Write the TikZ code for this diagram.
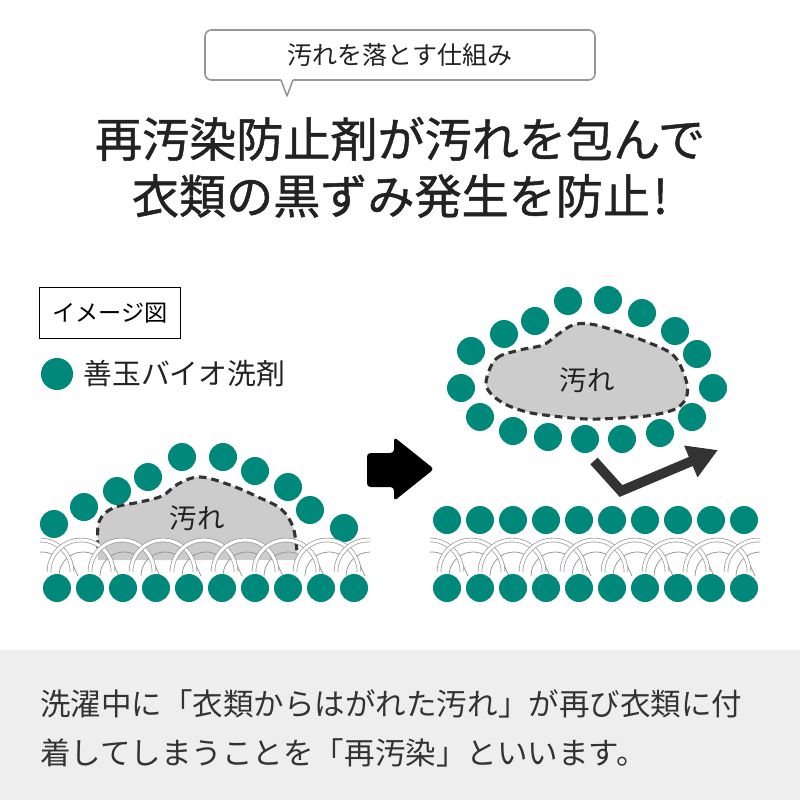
\documentclass[tikz,border=0pt]{standalone}
\usepackage{fontspec}
\setmainfont{Noto Sans CJK JP}
\newfontfamily\headfont{Noto Sans CJK JP}[FakeBold=1]
\usetikzlibrary{arrows.meta, positioning}

\definecolor{beadteal}{RGB}{0,137,123}
\definecolor{dirtgray}{RGB}{204,204,204}
\definecolor{edgegray}{RGB}{51,51,51}
\definecolor{fibergray}{RGB}{150,150,150}
\definecolor{bandgray}{RGB}{238,238,238}
\definecolor{bubblegray}{RGB}{150,150,150}
\definecolor{inkgray}{RGB}{34,34,34}

\begin{document}
\begin{tikzpicture}[x=0.025cm, y=-0.025cm,
    bead/.style={fill=beadteal},
    fiber/.style={draw=fibergray, line width=0.5pt, double=white, double distance=2.2pt},
    thread/.style={draw=fibergray, line width=0.55pt},
    dirt/.style={fill=dirtgray},
    dirtedge/.style={draw=edgegray, line width=2.2pt, dash pattern=on 5.5pt off 3.5pt},
    txt/.style={inner sep=0pt, text=inkgray}]
    \useasboundingbox (0,0) rectangle (800,800);

    \draw[bubblegray, line width=1.1pt, fill=white, rounded corners=4.5pt] (205,30) rectangle (595,80);
    \fill[white] (281,78) rectangle (293,82);
    \fill[white] (281,80) -- (287,96) -- (293,80) -- cycle;
    \draw[bubblegray, line width=1.1pt, line join=round] (281,80) -- (287,96) -- (293,80);
    \node[txt, font=\fontsize{17.8pt}{20pt}\selectfont] (bubble) at (400,55) {汚れを落とす仕組み};

    \node[txt, font=\headfont\fontsize{33.5pt}{38pt}\selectfont] (head1) at (400,139) {再汚染防止剤が汚れを包んで};
    \node[txt, font=\headfont\fontsize{33.5pt}{38pt}\selectfont] (head2) at (400,196) {衣類の黒ずみ発生を防止\kern2pt!};

    \node[draw, line width=0.7pt, minimum width=99.6pt, minimum height=35.6pt, inner sep=0pt,
          font=\fontsize{16.5pt}{18pt}\selectfont] (imgbox) at (110,313) {イメージ図};
    \node[circle, bead, minimum size=22.8pt, inner sep=0pt] (dot) at (57,374) {};
    \node[txt, right=7pt of dot, font=\fontsize{20.5pt}{22pt}\selectfont] (legend) {善玉バイオ洗剤};

    \fill[dirt] (98,560) -- plot[smooth, tension=0.6] coordinates {(98,548) (99,522) (113,508) (140,502) (162,496) (178,484) (200,477) (230,485) (258,497) (281,509) (293,527) (297,552)} -- (297,560) -- cycle;
    \draw[dirtedge] plot[smooth, tension=0.6] coordinates {(98,548) (99,522) (113,508) (140,502) (162,496) (178,484) (200,477) (230,485) (258,497) (281,509) (293,527) (297,552)};
    \node[txt, font=\fontsize{19.5pt}{22pt}\selectfont] (dirtL) at (197,518) {汚れ};
    \foreach \p in {(54,524),(84,507),(117,491),(148,477),(182,457),(223,457),(255,471),(288,487),(310,510),(344,528)}
        \fill[bead] \p circle[radius=14];

    \foreach \dx in {0,390} {
        \begin{scope}[shift={(\dx,0)}]
            \clip (40,533) rectangle (370,576);
            \foreach \x in {40,81,...,400} {
                \draw[thread] (\x-14,552) -- (\x-3,576);
                \draw[thread] (\x-22,576) arc[start angle=180, end angle=300, radius=24];
            }
            \foreach \x in {40,81,...,400}
                \draw[fiber] (\x+32,572) arc[start angle=0, end angle=-180, radius=32];
        \end{scope}
        \foreach \x in {57,90,...,360}
            \fill[bead] (\x+\dx,588) circle[radius=14];
    }

    \fill[black, rounded corners=2.5pt] (367,453) -- (394,453) -- (394,437) -- (434,469) -- (394,501) -- (394,487) -- (367,487) -- cycle;

    \draw[dirtedge, fill=dirtgray] plot[smooth cycle, tension=0.6] coordinates {(487,377) (497,358) (520,350) (543,345) (557,335) (573,325) (590,324) (613,330) (647,342) (673,355) (685,377) (687,395) (677,408) (653,415) (620,418) (587,419) (553,416) (527,412) (503,403) (488,390)};
    \node[txt, font=\fontsize{19.5pt}{22pt}\selectfont] (dirtR) at (587,380) {汚れ};
    \foreach \p in {(568,301),(608,300),(642,313),(675,331),(697,354),(713,388),(692,417),(660,433),(622,439),(585,439),(548,437),(513,431),(480,417),(461,388),(471,351),(504,334),(535,321)}
        \fill[bead] \p circle[radius=14];
    \foreach \x in {447,480,...,750}
        \fill[bead] (\x,520) circle[radius=14];

    \coordinate (lift) at (594,461);
    \coordinate (bend) at (621,491);
    \coordinate (away) at (718,450);
    \draw[edgegray, line width=7pt, line join=miter, -{Triangle[length=21pt, width=23pt]}] (lift) -- (bend) -- (away);

    \fill[bandgray] (0,650) rectangle (800,800);
    \node[txt, anchor=west, text=edgegray, font=\fontsize{21.7pt}{24pt}\selectfont] (note1) at (40,704) {洗濯中に「衣類からはがれた汚れ」が再び衣類に付};
    \node[txt, anchor=west, text=edgegray, font=\fontsize{21.7pt}{24pt}\selectfont] (note2) at (40,753) {着してしまうことを「再汚染」といいます。};
\end{tikzpicture}
\end{document}
